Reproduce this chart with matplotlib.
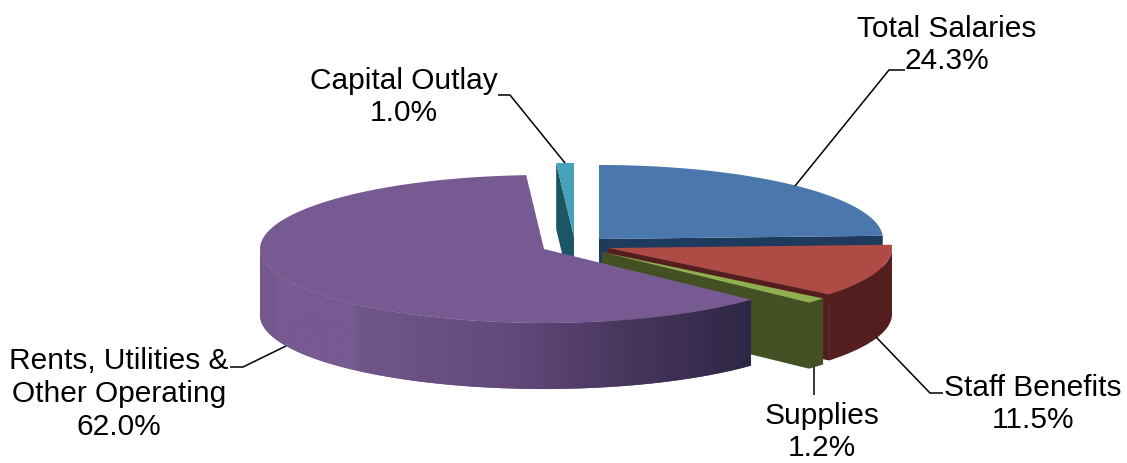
import numpy as np
import matplotlib
matplotlib.use("Agg")
import matplotlib.pyplot as plt
from matplotlib.patches import Polygon
from matplotlib.colors import LinearSegmentedColormap

plt.rcParams['font.family'] = ['Liberation Sans', 'DejaVu Sans']

# slices, clockwise from 12 o'clock
names = ["Total Salaries", "Staff Benefits", "Supplies", "Rents, Utilities &\nOther Operating", "Capital Outlay"]
shares = [24.3, 11.5, 1.2, 62.0, 1.0]

# apex of each exploded slice, in pixels
apex_x = [599, 608, 602, 544, 574]
apex_y = [240, 249, 253, 250, 238]

top_colors = ["#4a78ad", "#ae4b45", "#8fb04f", "#775a92", "#46a2b8"]
rim_colors = ["#1e3a5c", "#541e1f", "#435023", "#775a92", "#1c5563"]
cut_colors = ["#1e3a5c", "#541e1f", "#435023", "#775a92", "#1c5563"]

# label centres and leader lines
label_x = [947, 1033, 822, 119, 404]
label_y = [45, 404, 432, 394, 97]
lead_x = [[795, 889, 905], [876, 930, 943], [814, 814], [286, 243, 230], [565, 510, 498]]
lead_y = [[187, 71, 71], [338, 394, 394], [368, 396], [347, 368, 368], [164, 96, 96]]

rx, ry = 284, 74
depth = 66

ends = np.cumsum(shares) * 3.6
starts = ends - np.array(shares) * 3.6


def rim_pts(i, a0, a1, n=120):
    t = np.radians(np.linspace(a0, a1, n))
    return apex_x[i] + rx * np.sin(t), apex_y[i] - ry * np.cos(t)


def top_poly(i):
    x, y = rim_pts(i, starts[i], ends[i])
    return np.column_stack([np.r_[apex_x[i], x], np.r_[apex_y[i], y]])


def rim_poly(i):
    # only the part of the outer wall turned towards the viewer
    a0, a1 = max(starts[i], 90), min(ends[i], 270)
    if a0 >= a1:
        return None
    x, y = rim_pts(i, a0, a1)
    return np.column_stack([np.r_[x, x[::-1]], np.r_[y, y[::-1] + depth]])


def cut_poly(i, angle):
    x, y = rim_pts(i, angle, angle, 1)
    return [(apex_x[i], apex_y[i]), (x[0], y[0]), (x[0], y[0] + depth), (apex_x[i], apex_y[i] + depth)]


fig = plt.figure(figsize=(11.27, 4.64), dpi=100)
ax = fig.add_axes([0, 0, 1, 1])
ax.set_xlim(0, 1127)
ax.set_ylim(464, 0)
ax.axis('off')

# back to front: capital, salaries, benefits, supplies, rents
for i, cut_angle in [(4, starts[4]), (0, ends[0]), (1, ends[1]), (2, ends[2]), (3, None)]:
    if cut_angle is not None:
        ax.add_patch(Polygon(cut_poly(i, cut_angle), fc=cut_colors[i], ec='none', zorder=2))
    rim = rim_poly(i)
    if rim is not None:
        patch = Polygon(rim, fc=rim_colors[i], ec='none', zorder=2)
        ax.add_patch(patch)
        if i == 3:
            # rents wall shades from purple to dark navy, left to right
            cmap = LinearSegmentedColormap.from_list("wall", [
                (0.0, "#73588d"), (0.03, "#73588d"), (0.035, "#775a92"), (0.19, "#775a92"),
                (0.2, "#715689"), (0.5, "#644a7c"), (0.75, "#47365e"), (1.0, "#2e2745")])
            im = ax.imshow(np.linspace(0, 1, 256)[None, :], cmap=cmap, aspect='auto',
                           extent=(rim[:, 0].min(), rim[:, 0].max(), rim[:, 1].max(), rim[:, 1].min()),
                           zorder=2)
            im.set_clip_path(patch)
    ax.add_patch(Polygon(top_poly(i), fc=top_colors[i], ec='none', zorder=2))
ax.set_xlim(0, 1127)
ax.set_ylim(464, 0)

for i in range(len(names)):
    ax.plot(lead_x[i], lead_y[i], color='black', lw=1.1, zorder=3, solid_capstyle='butt')
    ax.text(label_x[i], label_y[i], f"{names[i]}\n{shares[i]:.1f}%", ha='center', va='center',
            fontsize=21.5, color='black', linespacing=1.22, zorder=4)

fig.savefig("out.png", dpi=100)
